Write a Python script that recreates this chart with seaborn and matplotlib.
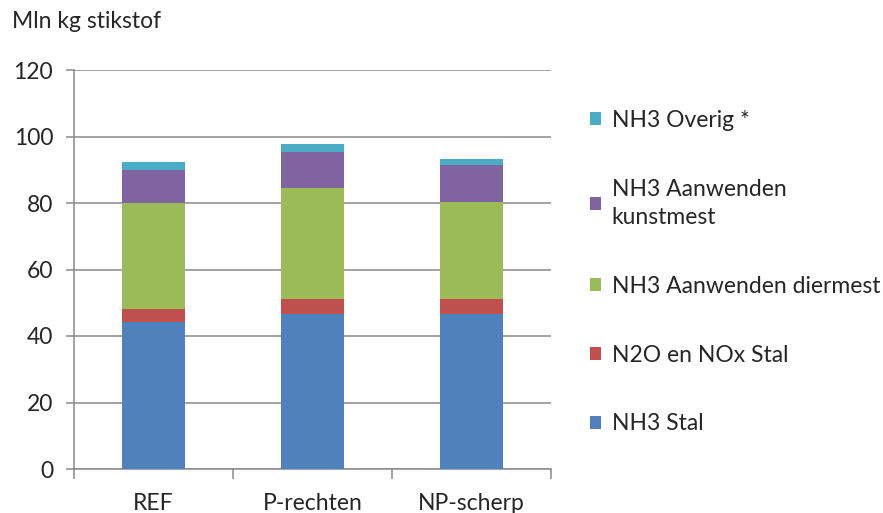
import matplotlib
matplotlib.use("Agg")
import matplotlib.pyplot as plt
from matplotlib.patches import Patch
import numpy as np
import pandas as pd
import seaborn as sns

# ---- data ----
categories = ["REF", "P-rechten", "NP-scherp"]
nh3_stal = [44.2, 46.7, 46.7]
n2o_nox_stal = [3.9, 4.3, 4.3]
nh3_diermest = [31.9, 33.6, 29.3]
nh3_kunstmest = [10.0, 10.8, 11.2]
nh3_overig = [2.2, 2.2, 1.8]

series_names = ["NH3 Stal", "N2O en NOx Stal", "NH3 Aanwenden diermest",
                "NH3 Aanwenden\nkunstmest", "NH3 Overig *"]
series_values = [nh3_stal, n2o_nox_stal, nh3_diermest, nh3_kunstmest, nh3_overig]
colors = ["#4F81BD", "#C0504D", "#9BBB59", "#8064A2", "#4BACC6"]
y_ticks = [0, 20, 40, 60, 80, 100, 120]
y_label = "Mln kg stikstof"

sns.set_style("white")
plt.rcParams["font.family"] = ["Lato", "DejaVu Sans"]
FS = 16.5
TXT = "#262626"

fig = plt.figure(figsize=(8.83, 5.13), dpi=100)
ax = fig.add_axes([74 / 883, 1 - 469 / 513, (551 - 74) / 883, (469 - 70) / 513])

cum = np.cumsum(np.array(series_values), axis=0)
df = pd.DataFrame({"cat": categories})
# draw from top layer down so each lower layer overlays
for i in range(len(series_values) - 1, -1, -1):
    df["v"] = cum[i]
    sns.barplot(data=df, x="cat", y="v", color=colors[i], saturation=1,
                width=0.39, errorbar=None, ax=ax, linewidth=0, zorder=3)

ax.set_ylim(0, 120)
ax.set_xlim(-0.5, len(categories) - 0.5)
ax.set_yticks(y_ticks)
ax.set_xlabel("")
ax.set_ylabel("")

gridc = "#8a8a8a"
ax.yaxis.grid(True, color=gridc, linewidth=1.1, zorder=0)
ax.set_axisbelow(True)
for s in ["top", "right"]:
    ax.spines[s].set_visible(False)
for s in ["left", "bottom"]:
    ax.spines[s].set_color(gridc)
    ax.spines[s].set_linewidth(1.1)

ax.tick_params(axis="y", which="major", direction="out", length=6, width=1.1,
               color=gridc, labelsize=FS, pad=9, left=True)
ax.tick_params(axis="x", which="major", length=0, labelsize=FS, pad=17)
ax.set_xticks(np.arange(-0.5, len(categories), 1.0), minor=True)
ax.tick_params(axis="x", which="minor", direction="out", length=7, width=1.1,
               color=gridc, bottom=True)
for lab in ax.get_xticklabels() + ax.get_yticklabels():
    lab.set_color(TXT)

fig.text(12 / 883, 1 - 22 / 513, y_label, fontsize=FS, color=TXT,
         va="center", ha="left")

handles = [Patch(facecolor=colors[i], edgecolor="none", label=series_names[i])
           for i in range(len(series_names) - 1, -1, -1)]
leg = fig.legend(handles=handles, loc="upper left",
                 bbox_to_anchor=(590 / 883, 1 - 110 / 513), frameon=False,
                 fontsize=FS, handlelength=0.5, handleheight=0.5,
                 handletextpad=0.45, labelspacing=2.08, borderpad=0,
                 borderaxespad=0)
for t in leg.get_texts():
    t.set_color(TXT)
    t.set_linespacing(1.45)

fig.savefig("out.png", dpi=100)
